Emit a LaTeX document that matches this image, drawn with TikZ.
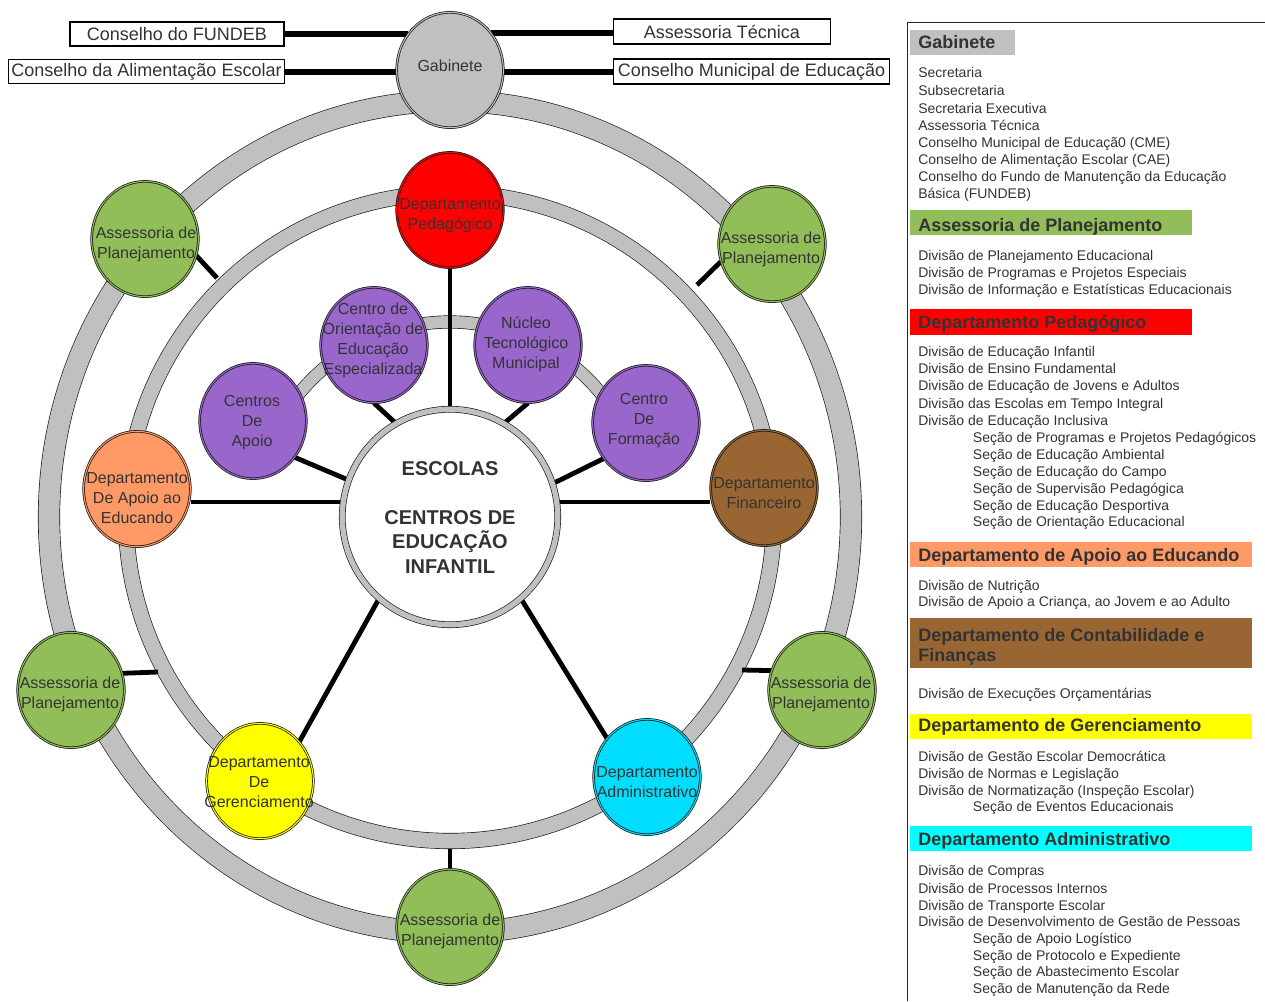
\documentclass[tikz,border=0pt]{standalone}
\usepackage{fontspec}
\setmainfont{Liberation Sans}
\usetikzlibrary{shapes.geometric}
\pgfdeclarelayer{background}
\pgfsetlayers{background,main}

\definecolor{ringgray}{RGB}{192,192,192}
\definecolor{txt}{RGB}{51,51,51}
\definecolor{cgreen}{RGB}{146,190,90}
\definecolor{cpurple}{RGB}{153,102,204}
\definecolor{corange}{RGB}{255,153,102}
\definecolor{cbrown}{RGB}{153,102,51}
\definecolor{ccyan}{RGB}{0,221,255}
\definecolor{lcyan}{RGB}{0,255,255}
\definecolor{cred}{RGB}{255,0,0}
\definecolor{cyellow}{RGB}{255,255,0}

\tikzset{
  bubble/.style={ellipse, draw=black!90, line width=0.55pt, double=#1, double distance=0.8pt,
    fill=#1, minimum width=80pt, minimum height=86.5pt, inner sep=0pt},
  btext/.style={text=txt, font=\fontsize{12}{15}\selectfont, align=center, inner sep=0pt},
  ctext/.style={text=txt, font=\fontsize{15}{18.4}\selectfont\bfseries, align=center, inner sep=0pt},
  topbox/.style={draw=black, line width=0.8pt, fill=white, inner sep=0pt, text=txt,
    font=\fontsize{13.5}{16}\selectfont},
  spoke/.style={draw=black, line width=3.6pt},
  thickconn/.style={draw=black, line width=4.6pt},
  ring/.style={draw=black!90, line width=0.5pt, double=ringgray},
  item/.style={anchor=base west, inner sep=0pt, text=txt, font=\fontsize{10.5}{12.9}\selectfont},
  hdr/.style={anchor=base west, inner sep=0pt, text=txt, font=\fontsize{13.5}{16.5}\selectfont\bfseries},
}

\begin{document}
\begin{tikzpicture}[x=0.75pt, y=-0.75pt]
\useasboundingbox (0,0) rectangle (1265,1001);

% ---------- top boxes ----------
\node[topbox, minimum width=160.5pt, minimum height=18pt] (fundeb) at (177,34) {Conselho do FUNDEB};
\node[topbox, minimum width=207pt, minimum height=18pt] (alim) at (146.5,71.5) {Conselho da Alimentação Escolar};
\node[topbox, minimum width=162.75pt, minimum height=18.75pt] (asstec) at (722,31.5) {Assessoria Técnica};
\node[topbox, minimum width=207pt, minimum height=18.75pt] (cme) at (751.5,71.5) {Conselho Municipal de Educação};

% ---------- Gabinete ----------
\node[bubble=ringgray] (gab) at (450,70) {};
\node[btext] (gabT) at (450,65.5) {Gabinete};

% ---------- center ----------
\node[circle, draw=black!90, line width=0.5pt, double=ringgray, double distance=4pt,
      fill=white, minimum size=161.6pt, inner sep=0pt] (ctr) at (450,517) {};
\node[ctext] (ctrA) at (450,469) {ESCOLAS};
\node[ctext] (ctrB) at (450,542) {CENTROS DE\\EDUCAÇÃO\\INFANTIL};

% ---------- departments ----------
\node[bubble=cred] (ped) at (450,210) {};
\node[btext] (pedT) at (450,215.5) {Departamento\\Pedagógico};
\node[bubble=corange] (ape) at (137,489) {};
\node[btext] (apeT) at (137,498) {Departamento\\De Apoio ao\\Educando};
\node[bubble=cbrown] (fin) at (764,488) {};
\node[btext] (finT) at (764,493.5) {Departamento\\Financeiro};
\node[bubble=cyellow] (ger) at (260,781) {};
\node[btext] (gerT) at (259,782.5) {Departamento\\De\\Gerenciamento};
\node[bubble=ccyan] (adm) at (647,777) {};
\node[btext] (admT) at (647,782.5) {Departamento\\Administrativo};

% ---------- purple ----------
\node[bubble=cpurple] (pap) at (253,421) {};
\node[btext] (papT) at (252,423) {Centros\\De\\Apoio};
\node[bubble=cpurple] (por) at (374,345) {};
\node[btext] (porT) at (373,340) {Centro de\\Orientação de\\Educação\\Especializada};
\node[bubble=cpurple] (pnu) at (528,345) {};
\node[btext] (pnuT) at (526,344.5) {Núcleo\\Tecnológico\\Municipal};
\node[bubble=cpurple] (pfo) at (646,423) {};
\node[btext] (pfoT) at (644,421) {Centro\\De\\Formação};

% ---------- green ----------
\node[bubble=cgreen] (g1) at (145,239) {};
\node[btext] (g1T) at (146,244) {Assessoria de\\Planejamento};
\node[bubble=cgreen] (g2) at (772,244) {};
\node[btext] (g2T) at (771,249.5) {Assessoria de\\Planejamento};
\node[bubble=cgreen] (g3) at (71,690) {};
\node[btext] (g3T) at (70,694.5) {Assessoria de\\Planejamento};
\node[bubble=cgreen] (g4) at (822,690) {};
\node[btext] (g4T) at (821,694.5) {Assessoria de\\Planejamento};
\node[bubble=cgreen] (g5) at (450,927) {};
\node[btext] (g5T) at (450,931) {Assessoria de\\Planejamento};

% ring attachment points
\coordinate (r1) at (217,278);
\coordinate (r2) at (697,285);
\coordinate (r3) at (158,672);
\coordinate (r4) at (742,670);
\coordinate (r5) at (450,849);

\begin{pgfonlayer}{background}
  % rings
  \draw[ring, double distance=15.6pt] (ctr.center) ellipse [x radius=300.75pt, y radius=312pt];
  \draw[ring, double distance=11.1pt] (ctr.center) circle [radius=243pt];
  \draw[ring, double distance=8.9pt] (ctr.center) ++(30:146.25pt) arc [start angle=30, end angle=150, radius=146.25pt];
  % top connectors
  \draw[thickconn] (gab.139) -- (gab.139 -| fundeb.east);
  \draw[thickconn] (gab.182) -- (gab.182 -| alim.east);
  \draw[thickconn] (gab.42) -- (gab.42 -| asstec.west);
  \draw[thickconn] (gab.-2) -- (gab.-2 -| cme.west);
  % spokes
  \draw[spoke] (ped.south) -- (ctr.north);
  \draw[spoke] (ctr.172) -- (ctr.172 -| ape.east);
  \draw[spoke] (ctr.8) -- (ctr.8 -| fin.west);
  \draw[spoke] (ctr.229) -- (ger.45);
  \draw[spoke] (ctr.311) -- (adm.136);
  \draw[spoke] (pap.-41) -- (ctr.160);
  \draw[spoke] (por.south) -- (ctr.120);
  \draw[spoke] (pnu.south) -- (ctr.60);
  \draw[spoke] (pfo.220) -- (ctr.18);
  % green connectors
  \draw[spoke] (g1.-18) -- (r1);
  \draw[spoke] (g2.199) -- (r2);
  \draw[spoke] (g3.18) -- (r3);
  \draw[spoke] (g4.159) -- (r4);
  \draw[spoke] (g5.north) -- (r5);
\end{pgfonlayer}

% ---------- legend ----------
\draw[black!85, line width=1.1pt] (907.5,1001) -- (907.5,22.5) -- (1265,22.5);

\fill[ringgray] (910,30) rectangle (1015,55);
\fill[cgreen] (910,210) rectangle (1192,235);
\fill[cred] (910,309) rectangle (1192,335);
\fill[corange] (910,542) rectangle (1252,567);
\fill[cbrown] (910,618) rectangle (1252,668);
\fill[cyellow] (910,714) rectangle (1252,739);
\fill[lcyan] (910,826) rectangle (1252,851);

\node[hdr] (h1) at (918,48.3) {Gabinete};
\node[item] (a1) at (918,77) {Secretaria};
\node[item] (a2) at (918,95.5) {Subsecretaria};
\node[item] (a3) at (918,113) {Secretaria Executiva};
\node[item] (a4) at (918,130) {Assessoria Técnica};
\node[item] (a5) at (918,147) {Conselho Municipal de Educaçã0 (CME)};
\node[item] (a6) at (918,164) {Conselho de Alimentação Escolar (CAE)};
\node[item] (a7) at (918,181) {Conselho do Fundo de Manutenção da Educação};
\node[item] (a8) at (918,198) {Básica (FUNDEB)};

\node[hdr] (h2) at (918,231.7) {Assessoria de Planejamento};
\node[item] (b1) at (918,260) {Divisão de Planejamento Educacional};
\node[item] (b2) at (918,277.3) {Divisão de Programas e Projetos Especiais};
\node[item] (b3) at (918,294) {Divisão de Informação e Estatísticas Educacionais};

\node[hdr] (h3) at (918,328.3) {Departamento Pedagógico};
\node[item] (c1) at (918,356) {Divisão de Educação Infantil};
\node[item] (c2) at (918,373.3) {Divisão de Ensino Fundamental};
\node[item] (c3) at (918,390) {Divisão de Educação de Jovens e Adultos};
\node[item] (c4) at (918,408.7) {Divisão das Escolas em Tempo Integral};
\node[item] (c5) at (918,425) {Divisão de Educação Inclusiva};
\node[item] (c6) at (972.7,442.7) {Seção de Programas e Projetos Pedagógicos};
\node[item] (c7) at (972.7,459.3) {Seção de Educação Ambiental};
\node[item] (c8) at (972.7,476.7) {Seção de Educação do Campo};
\node[item] (c9) at (972.7,493.3) {Seção de Supervisão Pedagógica};
\node[item] (c10) at (972.7,510) {Seção de Educação Desportiva};
\node[item] (c11) at (972.7,526.7) {Seção de Orientação Educacional};

\node[hdr] (h4) at (918,561) {Departamento de Apoio ao Educando};
\node[item] (d1) at (918,590) {Divisão de Nutrição};
\node[item] (d2) at (918,606.7) {Divisão de Apoio a Criança, ao Jovem e ao Adulto};

\node[hdr] (h5a) at (918,641.7) {Departamento de Contabilidade e};
\node[hdr] (h5b) at (918,661.7) {Finanças};
\node[item] (e1) at (918,698.3) {Divisão de Execuções Orçamentárias};

\node[hdr] (h6) at (918,731.7) {Departamento de Gerenciamento};
\node[item] (f1) at (918,761.7) {Divisão de Gestão Escolar Democrática};
\node[item] (f2) at (918,778.3) {Divisão de Normas e Legislação};
\node[item] (f3) at (918,795) {Divisão de Normatização (Inspeção Escolar)};
\node[item] (f4) at (972.7,811.7) {Seção de Eventos Educacionais};

\node[hdr] (h7) at (918,845) {Departamento Administrativo};
\node[item] (k1) at (918,875) {Divisão de Compras};
\node[item] (k2) at (918,893.3) {Divisão de Processos Internos};
\node[item] (k3) at (918,910) {Divisão de Transporte Escolar};
\node[item] (k4) at (918,926.7) {Divisão de Desenvolvimento de Gestão de Pessoas};
\node[item] (k5) at (972.7,943.3) {Seção de Apoio Logístico};
\node[item] (k6) at (972.7,960) {Seção de Protocolo e Expediente};
\node[item] (k7) at (972.7,976.7) {Seção de Abastecimento Escolar};
\node[item] (k8) at (972.7,993.3) {Seção de Manutenção da Rede};

\end{tikzpicture}
\end{document}
